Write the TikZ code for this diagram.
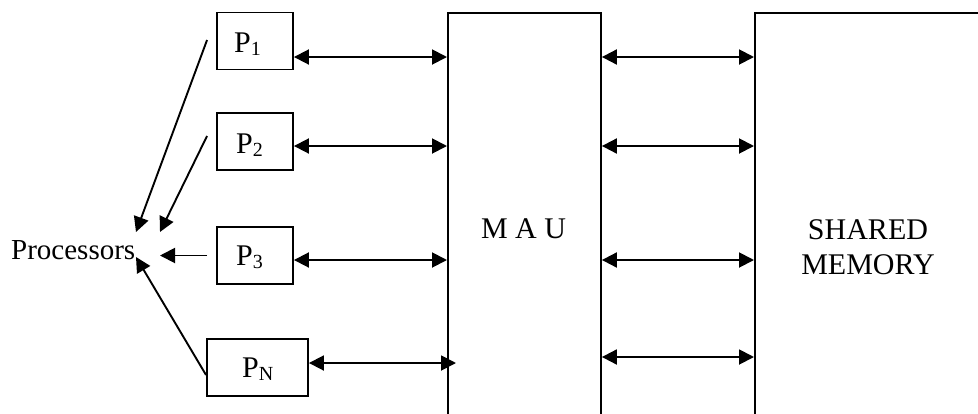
\documentclass[tikz,border=0pt]{standalone}
\usepackage{fontspec}
\setmainfont{Liberation Serif}
\usetikzlibrary{arrows.meta,calc}
\newcommand\psub[1]{P\raisebox{-3pt}{\fontsize{20}{20}\selectfont #1}}
\begin{document}
\begin{tikzpicture}[x=1pt,y=-1pt,
  box/.style={draw,line width=1.9pt,inner sep=0pt,minimum width=76pt,minimum height=57pt},
  unit/.style={draw,line width=1.9pt,inner sep=0pt,anchor=north west},
  txt/.style={inner sep=0pt,font=\fontsize{30}{35}\selectfont},
  biarrow/.style={{Triangle[length=15pt,width=15pt]}-{Triangle[length=15pt,width=15pt]},line width=1.9pt},
  toarrow/.style={-{Triangle[length=15pt,width=15pt]},line width=1.9pt}]
\useasboundingbox (0,0) rectangle (978,413);
\fill[white] (0,0) rectangle (978,413);
\clip (0,0) rectangle (978,413);

% processor boxes
\node[box] (p1) at (255,41) {};
\node[box] (p2) at (255,141.5) {};
\node[box] (p3) at (255,255.5) {};
\node[box,minimum width=101pt] (pn) at (257.5,367.5) {};

% memory access unit and shared memory (open below / to the right)
\node[unit,minimum width=153pt,minimum height=432pt] (mau) at (447,12) {};
\node[unit,minimum width=300pt,minimum height=432pt] (shm) at (754,12) {};

% labels
\node[txt,anchor=base west] (p1t) at (234,52) {\psub{1}};
\node[txt,anchor=base west] (p2t) at (236,153) {\psub{2}};
\node[txt,anchor=base west] (p3t) at (236,265) {\psub{3}};
\node[txt,anchor=base west] (pnt) at (242,377) {\psub{N}};
\node[txt,anchor=base] (maut) at (523.5,238) {M A U};
\node[txt,anchor=base,align=center] (shmt) at (868,274) {SHARED\\MEMORY};
\node[txt,anchor=base west,font=\fontsize{29}{35}\selectfont] (proc) at (11,259) {Processors};

% bus rows
\coordinate (r1) at (0,57);
\coordinate (r2) at (0,146);
\coordinate (r3) at (0,260);
\coordinate (r4) at (0,357);
\coordinate (rn) at (0,363);

% processor <-> MAU
\draw[biarrow] (p1.east |- r1) -- (mau.west |- r1);
\draw[biarrow] (p2.east |- r2) -- (mau.west |- r2);
\draw[biarrow] (p3.east |- r3) -- (mau.west |- r3);
\draw[biarrow] (pn.east |- rn) -- ($(mau.west |- rn)+(9,0)$);

% MAU <-> shared memory
\draw[biarrow] (mau.east |- r1) -- (shm.west |- r1);
\draw[biarrow] (mau.east |- r2) -- (shm.west |- r2);
\draw[biarrow] (mau.east |- r3) -- (shm.west |- r3);
\draw[biarrow] (mau.east |- r4) -- (shm.west |- r4);

% pointers to the "Processors" label
\coordinate (t1) at (136,232);
\coordinate (t2) at (160,232);
\coordinate (t3) at (160,255.5);
\coordinate (t4) at (136,257);
\draw[toarrow] ($(p1.west)+(-9,-1)$) -- (t1);
\draw[toarrow] ($(p2.west)+(-9,-5.5)$) -- (t2);
\draw[toarrow] ($(p3.west)+(-9,0)$) -- (t3);
\draw[toarrow] ($(pn.west)+(0,7.5)$) -- (t4);
\end{tikzpicture}
\end{document}
